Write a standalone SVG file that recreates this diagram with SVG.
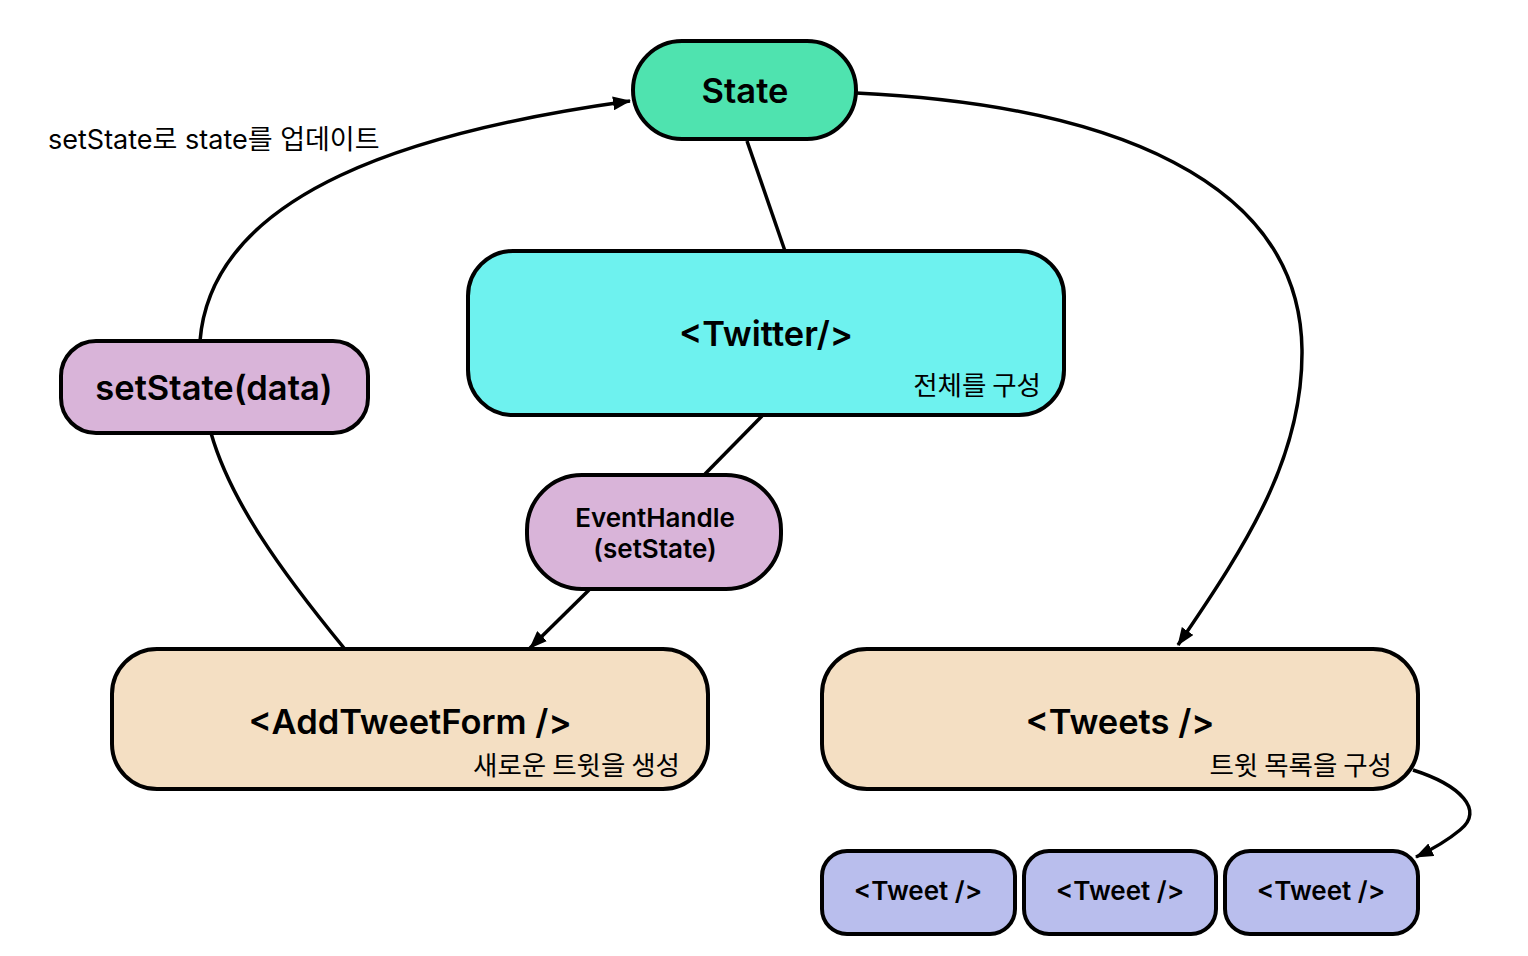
<svg xmlns="http://www.w3.org/2000/svg" width="1528" height="956" viewBox="0 0 1528 956">
<defs>
<marker id="arr" viewBox="0 0 18 14" refX="17" refY="7" markerWidth="18" markerHeight="14" markerUnits="userSpaceOnUse" orient="auto">
<path d="M0,0 L18,7 L0,14 z" fill="#000"/>
</marker>
<style>
.n{stroke:#000;stroke-width:4}
.t{font-family:Inter,"Noto Sans CJK KR",sans-serif;fill:#000;text-anchor:middle}
.b{font-weight:600;font-size:34.5px}
.m{font-weight:600;font-size:26px}
.s{font-size:26.5px;text-anchor:end;font-family:"Noto Sans CJK KR",Inter,sans-serif}
.c{fill:none;stroke:#000;stroke-width:3.5}
</style>
</defs>
<rect width="1528" height="956" fill="#fff"/>
<g id="connectors">
<path class="c" d="M200,341 C212,190 420,130 630,101" marker-end="url(#arr)"/>
<path class="c" d="M856,93 C1110,105 1300,180 1302,350 C1303,455 1250,540 1178,645" marker-end="url(#arr)"/>
<path class="c" d="M747,141 L785,251"/>
<path class="c" d="M762,416 L705,474"/>
<path class="c" d="M589,590 L530,648" marker-end="url(#arr)"/>
<path class="c" d="M211,433 C230,500 280,570 344,648"/>
<path class="c" d="M1413,770 C1460,785 1485,810 1460,830 C1448,840 1435,848 1416,857" marker-end="url(#arr)"/>
<text class="t" x="48" y="149" style="font-size:27px;text-anchor:start">setState로 state를 업데이트</text>
</g>
<g id="state">
<rect class="n" x="633" y="41" width="223" height="98" rx="49" fill="#4FE3AF"/>
<text class="t b" x="745" y="103">State</text>
</g>
<g id="twitter">
<rect class="n" x="468" y="251" width="596" height="164" rx="45" fill="#6EF2EF"/>
<text class="t b" x="766" y="346">&lt;Twitter/&gt;</text>
<text class="t s" x="1041" y="395">전체를 구성</text>
</g>
<g id="setstate">
<rect class="n" x="61" y="341" width="307" height="92" rx="35" fill="#D9B4D9"/>
<text class="t b" x="214" y="400">setState(data)</text>
</g>
<g id="eventhandle">
<rect class="n" x="527" y="475" width="254" height="114" rx="55" fill="#D9B4D9"/>
<text class="t m" x="655" y="527">EventHandle</text>
<text class="t m" x="655" y="558">(setState)</text>
</g>
<g id="addtweetform">
<rect class="n" x="112" y="649" width="596" height="140" rx="45" fill="#F4DFC3"/>
<text class="t b" x="410" y="734">&lt;AddTweetForm /&gt;</text>
<text class="t s" x="680" y="775">새로운 트윗을 생성</text>
</g>
<g id="tweets">
<rect class="n" x="822" y="649" width="596" height="140" rx="45" fill="#F4DFC3"/>
<text class="t b" x="1120" y="734">&lt;Tweets /&gt;</text>
<text class="t s" x="1392" y="775">트윗 목록을 구성</text>
</g>
<g id="tweet1">
<rect class="n" x="822" y="851" width="193" height="83" rx="25" fill="#B9BEED"/>
<text class="t m" x="918" y="900">&lt;Tweet /&gt;</text>
</g>
<g id="tweet2">
<rect class="n" x="1024" y="851" width="192" height="83" rx="25" fill="#B9BEED"/>
<text class="t m" x="1120" y="900">&lt;Tweet /&gt;</text>
</g>
<g id="tweet3">
<rect class="n" x="1225" y="851" width="193" height="83" rx="25" fill="#B9BEED"/>
<text class="t m" x="1321" y="900">&lt;Tweet /&gt;</text>
</g>
</svg>
